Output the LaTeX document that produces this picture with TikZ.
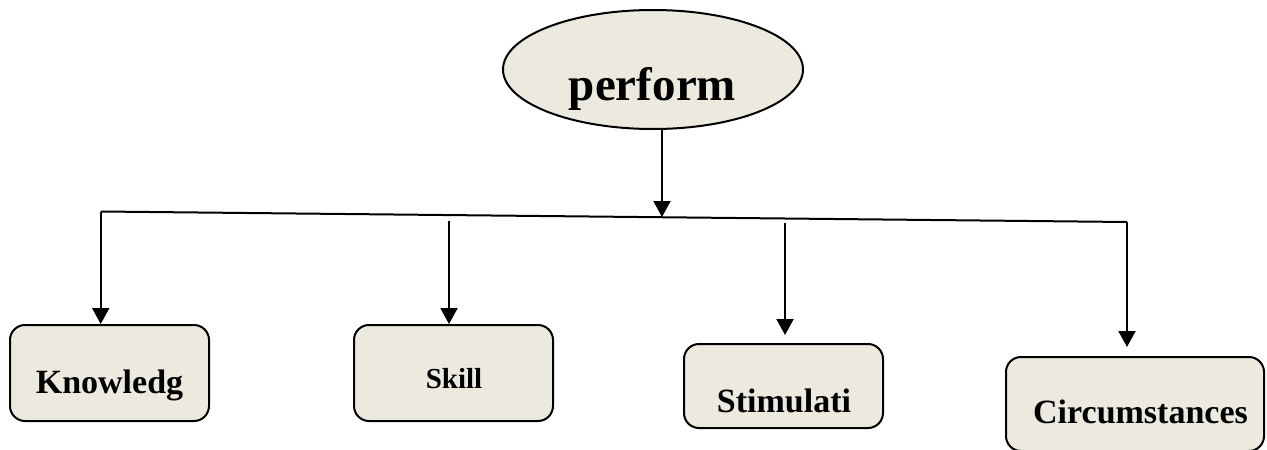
\documentclass[tikz,border=0pt]{standalone}
\usepackage{fontspec}
\setmainfont{Liberation Serif}
\usetikzlibrary{shapes.geometric,arrows.meta}
\definecolor{boxfill}{RGB}{236,234,223}
\tikzset{
  box/.style={draw=black, line width=2pt, fill=boxfill, rounded corners=15pt, inner sep=0pt},
  oval/.style={ellipse, draw=black, line width=2pt, fill=boxfill, inner sep=0pt},
  lbl/.style={anchor=base, inner sep=0pt, font=\fontsize{34}{40}\selectfont\bfseries},
  conn/.style={line width=2pt},
  arr/.style={line width=2pt, -{Triangle[length=16pt,width=17pt]}}
}
\begin{document}
\begin{tikzpicture}[x=1pt,y=-1pt]
\useasboundingbox (0,0) rectangle (1267,450);
% top ellipse
\node[oval, minimum width=300pt, minimum height=119pt] (perform) at (653,69.5) {};
\node[lbl, font=\fontsize{47}{52}\selectfont\bfseries] (performtxt) at (652.5,100) {perform};
% boxes
\node[box, minimum width=199pt, minimum height=96pt] (know) at (109.5,373) {};
\node[lbl] (knowtxt) at (109.5,393) {Knowledg};
\node[box, minimum width=199pt, minimum height=96pt] (skill) at (453.5,373) {};
\node[lbl, font=\fontsize{29}{34}\selectfont\bfseries] (skilltxt) at (454,388) {Skill};
\node[box, minimum width=199pt, minimum height=84pt] (stim) at (783.5,386) {};
\node[lbl] (stimtxt) at (784,412) {Stimulati};
\node[box, minimum width=258pt, minimum height=94pt] (circ) at (1135,404) {};
\node[lbl] (circtxt) at (1140.5,423) {Circumstances};
% junctions
\coordinate (jl) at (100.7,211.5);
\coordinate (jm) at (662,217);
\coordinate (jr) at (1127,222);
\coordinate (s2) at (449,221);
\coordinate (s3) at (785,223);
% connectors
\draw[conn] (jl) -- (jr);
\draw[arr] (jm |- perform.south) -- (jm);
\draw[arr] (jl) -- (jl |- know.north);
\draw[arr] (s2) -- (s2 |- skill.north);
\draw[arr] (s3) -- ([yshift=8pt]s3 |- stim.north);
\draw[arr] (jr) -- ([yshift=9pt]jr |- circ.north);
\end{tikzpicture}
\end{document}
